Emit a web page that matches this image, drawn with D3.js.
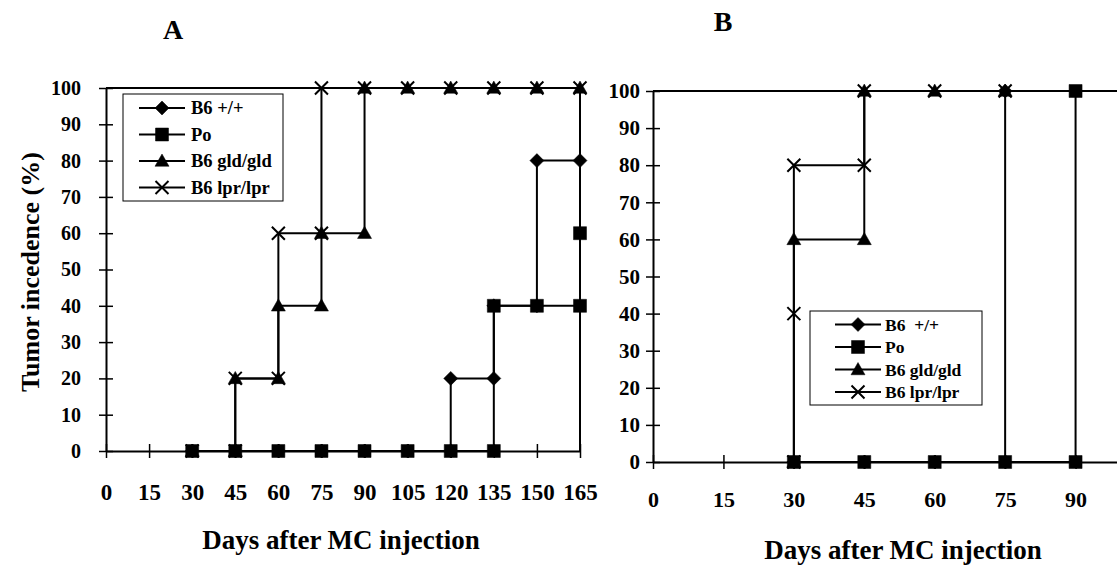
<!DOCTYPE html>
<html>
<head>
<meta charset="utf-8">
<script src="https://cdn.jsdelivr.net/npm/d3@7/dist/d3.min.js"></script>
<style>
  html, body { margin: 0; padding: 0; background: #fff; }
  svg text { font-family: "Liberation Serif", "Times New Roman", serif; font-weight: bold; fill: #000; }
</style>
</head>
<body>
<svg id="chart" width="1117" height="567"></svg>
<script>
// ---- data ----
const seriesNames  = ['B6 +/+', 'Po', 'B6 gld/gld', 'B6 lpr/lpr'];
const seriesNamesB = ['B6  +/+', 'Po', 'B6 gld/gld', 'B6 lpr/lpr'];
const markerKinds  = ['diamond', 'square', 'triangle', 'cross'];

const pctTicks   = [0, 10, 20, 30, 40, 50, 60, 70, 80, 90, 100];
const dayTicksA  = [0, 15, 30, 45, 60, 75, 90, 105, 120, 135, 150, 165];
const dayTicksB  = [0, 15, 30, 45, 60, 75, 90];

// panel A : step curves, [day, % incidence]
const aWild = [[30,0],[45,0],[60,0],[75,0],[90,0],[105,0],[120,0],[120,20],[135,20],[135,40],[150,40],[150,80],[165,80]];
const aPo   = [[30,0],[45,0],[60,0],[75,0],[90,0],[105,0],[120,0],[135,0],[135,40],[150,40],[165,40],[165,60]];
const aGld  = [[30,0],[45,0],[45,20],[60,20],[60,40],[75,40],[75,60],[90,60],[90,100],[105,100],[120,100],[135,100],[150,100],[165,100]];
const aLpr  = [[30,0],[45,0],[45,20],[60,20],[60,60],[75,60],[75,100],[90,100],[105,100],[120,100],[135,100],[150,100],[165,100]];

// panel B
const bWild = [[30,0],[45,0],[60,0],[75,0],[75,100]];
const bPo   = [[30,0],[45,0],[60,0],[75,0],[90,0],[90,100]];
const bGld  = [[30,0],[30,60],[45,60],[45,100],[60,100],[75,100]];
const bLpr  = [[30,0],[30,40],[30,80],[45,80],[45,100],[60,100],[75,100]];

const svg = d3.select('#chart');

// marker shapes as d3 symbol types
const symTypes = {
  diamond:  { draw(c, s) { const r = s; c.moveTo(0,-r); c.lineTo(r,0); c.lineTo(0,r); c.lineTo(-r,0); c.closePath(); } },
  square:   { draw(c, s) { const r = s - 0.5; c.rect(-r,-r,2*r,2*r); } },
  triangle: { draw(c, s) { c.moveTo(0,-s); c.lineTo(s,s*0.75); c.lineTo(-s,s*0.75); c.closePath(); } },
  cross:    { draw(c, s) { const r = s - 0.5; c.moveTo(-r,-r); c.lineTo(r,r); c.moveTo(r,-r); c.lineTo(-r,r); } }
};
function drawMarker(g, kind, x, y) {
  const p = d3.symbol().type(symTypes[kind]).size(7)();
  g.append('path')
    .attr('d', p)
    .attr('transform', `translate(${x},${y})`)
    .attr('fill', kind === 'cross' ? 'none' : '#000')
    .attr('stroke', '#000')
    .attr('stroke-width', kind === 'cross' ? 2 : 0.5);
}

function drawPanel(opt) {
  const { x, y, series, names, xTicks, yPad, yFont, xFont, xLabelY, legend } = opt;
  const g = svg.append('g');

  // plot-area border (top + right)
  g.append('path')
    .attr('d', `M${x.range()[0]},${y(100)}H${x.range()[1]}V${y(0)}`)
    .attr('fill', 'none').attr('stroke', '#000').attr('stroke-width', 2);

  // y axis
  const ya = g.append('g').attr('transform', `translate(${x.range()[0]},0)`)
    .call(d3.axisLeft(y).tickValues(pctTicks).tickSize(7).tickPadding(yPad).tickSizeOuter(0));
  ya.selectAll('.tick line').attr('x1', 7).attr('stroke-width', 1.5);
  ya.select('.domain').attr('stroke-width', 2);
  ya.selectAll('text').style('font-size', yFont + 'px').attr('font-family', null);

  // x axis
  const xa = g.append('g').attr('transform', `translate(0,${y(0)})`)
    .call(d3.axisBottom(x).tickValues(xTicks).tickSize(7).tickSizeOuter(0));
  xa.selectAll('.tick line').attr('y1', -7).attr('stroke-width', 1.5);
  xa.select('.domain').attr('stroke-width', 2);
  xa.selectAll('text').style('font-size', xFont + 'px').attr('font-family', null)
    .attr('dy', null).attr('y', xLabelY);

  const line = d3.line().x(d => x(d[0])).y(d => y(d[1]));
  series.forEach((s, i) => {
    g.append('path').attr('d', line(s))
      .attr('fill', 'none').attr('stroke', '#000').attr('stroke-width', 2);
    s.forEach(d => drawMarker(g, markerKinds[i], x(d[0]), y(d[1])));
  });

  // legend
  const lg = g.append('g');
  lg.append('rect')
    .attr('x', legend.x0).attr('y', legend.y0)
    .attr('width', legend.x1 - legend.x0).attr('height', legend.y1 - legend.y0)
    .attr('fill', '#fff').attr('stroke', '#000').attr('stroke-width', 1);
  names.forEach((n, i) => {
    const ry = legend.row0 + i * legend.step;
    lg.append('line')
      .attr('x1', legend.mx - 23).attr('x2', legend.mx + 23)
      .attr('y1', ry).attr('y2', ry)
      .attr('stroke', '#000').attr('stroke-width', 2);
    drawMarker(lg, markerKinds[i], legend.mx, ry);
    lg.append('text')
      .attr('x', legend.tx).attr('y', ry).attr('dy', '0.35em')
      .style('font-size', legend.font + 'px')
      .style('white-space', 'pre')
      .text(n);
  });
}

// ---- panel A ----
drawPanel({
  x: d3.scaleLinear().domain([0, 165]).range([106, 580]),
  y: d3.scaleLinear().domain([0, 100]).range([451, 88]),
  series: [aWild, aPo, aGld, aLpr],
  names: seriesNames,
  xTicks: dayTicksA,
  yPad: 18, yFont: 20, xFont: 23, xLabelY: 49,
  legend: { x0: 123, y0: 94, x1: 283, y1: 201, mx: 162, tx: 191, row0: 108, step: 26.5, font: 18.5 }
});

// ---- panel B ----
drawPanel({
  x: d3.scaleLinear().domain([0, 105]).range([653, 1146]),
  y: d3.scaleLinear().domain([0, 100]).range([462, 91]),
  series: [bWild, bPo, bGld, bLpr],
  names: seriesNamesB,
  xTicks: dayTicksB,
  yPad: 6, yFont: 21, xFont: 22, xLabelY: 45,
  legend: { x0: 810, y0: 311, x1: 982, y1: 405, mx: 858, tx: 885, row0: 324.5, step: 22.5, font: 17.5 }
});

// titles
svg.append('text').attr('x', 173).attr('y', 39).attr('text-anchor', 'middle')
  .style('font-size', '28px').text('A');
svg.append('text').attr('x', 723).attr('y', 31).attr('text-anchor', 'middle')
  .style('font-size', '28px').text('B');
svg.append('text').attr('x', 341).attr('y', 549).attr('text-anchor', 'middle')
  .style('font-size', '27px').text('Days after MC injection');
svg.append('text').attr('x', 903).attr('y', 559).attr('text-anchor', 'middle')
  .style('font-size', '27px').text('Days after MC injection');
svg.append('text').attr('transform', 'translate(39,272) rotate(-90)').attr('text-anchor', 'middle')
  .style('font-size', '26px').text('Tumor incedence (%)');
</script>
</body>
</html>
